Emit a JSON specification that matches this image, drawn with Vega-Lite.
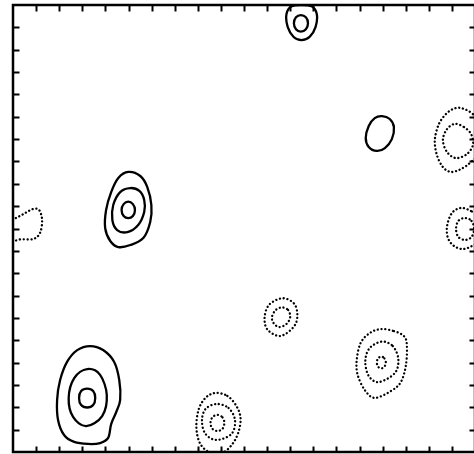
{
  "$schema": "https://vega.github.io/schema/vega-lite/v6.json",
  "width": 462,
  "height": 447,
  "autosize": "none",
  "padding": {"left": 13, "top": 5, "right": 0, "bottom": 2},
  "background": "white",
  "config": {"view": {"stroke": "black", "strokeWidth": 2.5}},
  "data": {"values": [
    {"c":"A","s":"pos","i":0,"x":3.34,"y":4.74},{"c":"A","s":"pos","i":1,"x":3.90,"y":4.56},{"c":"A","s":"pos","i":2,"x":4.38,"y":4.03},{"c":"A","s":"pos","i":3,"x":4.60,"y":3.22},{"c":"A","s":"pos","i":4,"x":4.64,"y":2.33},{"c":"A","s":"pos","i":5,"x":4.47,"y":1.79},{"c":"A","s":"pos","i":6,"x":4.25,"y":1.25},{"c":"A","s":"pos","i":7,"x":4.12,"y":0.63},{"c":"A","s":"pos","i":8,"x":3.77,"y":0.40},{"c":"A","s":"pos","i":9,"x":3.25,"y":0.36},{"c":"A","s":"pos","i":10,"x":2.65,"y":0.45},{"c":"A","s":"pos","i":11,"x":2.21,"y":0.76},{"c":"A","s":"pos","i":12,"x":1.95,"y":1.43},{"c":"A","s":"pos","i":13,"x":1.91,"y":2.33},{"c":"A","s":"pos","i":14,"x":2.04,"y":3.22},{"c":"A","s":"pos","i":15,"x":2.34,"y":4.03},{"c":"A","s":"pos","i":16,"x":2.78,"y":4.56},
    {"c":"B","s":"pos","i":0,"x":3.21,"y":3.71},{"c":"B","s":"pos","i":1,"x":3.77,"y":3.45},{"c":"B","s":"pos","i":2,"x":4.06,"y":2.55},{"c":"B","s":"pos","i":3,"x":3.86,"y":1.61},{"c":"B","s":"pos","i":4,"x":3.17,"y":1.16},{"c":"B","s":"pos","i":5,"x":2.60,"y":1.57},{"c":"B","s":"pos","i":6,"x":2.41,"y":2.42},{"c":"B","s":"pos","i":7,"x":2.65,"y":3.31},
    {"c":"C","s":"pos","i":0,"x":3.21,"y":2.84},{"c":"C","s":"pos","i":1,"x":3.47,"y":2.73},{"c":"C","s":"pos","i":2,"x":3.56,"y":2.42},{"c":"C","s":"pos","i":3,"x":3.47,"y":2.10},{"c":"C","s":"pos","i":4,"x":3.21,"y":1.99},{"c":"C","s":"pos","i":5,"x":2.95,"y":2.10},{"c":"C","s":"pos","i":6,"x":2.86,"y":2.42},{"c":"C","s":"pos","i":7,"x":2.95,"y":2.73},
    {"c":"D","s":"pos","i":0,"x":4.99,"y":12.53},{"c":"D","s":"pos","i":1,"x":5.51,"y":12.35},{"c":"D","s":"pos","i":2,"x":5.81,"y":11.86},{"c":"D","s":"pos","i":3,"x":5.99,"y":11.05},{"c":"D","s":"pos","i":4,"x":5.94,"y":10.29},{"c":"D","s":"pos","i":5,"x":5.64,"y":9.57},{"c":"D","s":"pos","i":6,"x":5.08,"y":9.26},{"c":"D","s":"pos","i":7,"x":4.56,"y":9.17},{"c":"D","s":"pos","i":8,"x":4.21,"y":9.44},{"c":"D","s":"pos","i":9,"x":3.99,"y":10.02},{"c":"D","s":"pos","i":10,"x":4.03,"y":10.83},{"c":"D","s":"pos","i":11,"x":4.25,"y":11.63},{"c":"D","s":"pos","i":12,"x":4.56,"y":12.26},
    {"c":"E","s":"pos","i":0,"x":5.08,"y":11.81},{"c":"E","s":"pos","i":1,"x":5.47,"y":11.68},{"c":"E","s":"pos","i":2,"x":5.68,"y":11.28},{"c":"E","s":"pos","i":3,"x":5.68,"y":10.74},{"c":"E","s":"pos","i":4,"x":5.42,"y":10.16},{"c":"E","s":"pos","i":5,"x":4.95,"y":9.84},{"c":"E","s":"pos","i":6,"x":4.51,"y":9.93},{"c":"E","s":"pos","i":7,"x":4.30,"y":10.38},{"c":"E","s":"pos","i":8,"x":4.34,"y":11.05},{"c":"E","s":"pos","i":9,"x":4.64,"y":11.63},
    {"c":"F","s":"pos","i":0,"x":4.99,"y":11.20},{"c":"F","s":"pos","i":1,"x":5.19,"y":11.09},{"c":"F","s":"pos","i":2,"x":5.28,"y":10.83},{"c":"F","s":"pos","i":3,"x":5.19,"y":10.56},{"c":"F","s":"pos","i":4,"x":4.99,"y":10.46},{"c":"F","s":"pos","i":5,"x":4.79,"y":10.56},{"c":"F","s":"pos","i":6,"x":4.70,"y":10.83},{"c":"F","s":"pos","i":7,"x":4.79,"y":11.09},
    {"c":"G","s":"pos","i":0,"x":12.49,"y":20.0},{"c":"G","s":"pos","i":1,"x":12.93,"y":19.94},{"c":"G","s":"pos","i":2,"x":13.15,"y":19.60},{"c":"G","s":"pos","i":3,"x":13.10,"y":19.02},{"c":"G","s":"pos","i":4,"x":12.84,"y":18.57},{"c":"G","s":"pos","i":5,"x":12.49,"y":18.43},{"c":"G","s":"pos","i":6,"x":12.15,"y":18.57},{"c":"G","s":"pos","i":7,"x":11.89,"y":19.02},{"c":"G","s":"pos","i":8,"x":11.84,"y":19.60},{"c":"G","s":"pos","i":9,"x":12.06,"y":19.94},
    {"c":"H","s":"pos","i":0,"x":12.46,"y":19.55},{"c":"H","s":"pos","i":1,"x":12.68,"y":19.45},{"c":"H","s":"pos","i":2,"x":12.77,"y":19.18},{"c":"H","s":"pos","i":3,"x":12.68,"y":18.92},{"c":"H","s":"pos","i":4,"x":12.46,"y":18.81},{"c":"H","s":"pos","i":5,"x":12.25,"y":18.92},{"c":"H","s":"pos","i":6,"x":12.16,"y":19.18},{"c":"H","s":"pos","i":7,"x":12.25,"y":19.45},
    {"c":"I","s":"pos","i":0,"x":15.97,"y":15.03},{"c":"I","s":"pos","i":1,"x":16.31,"y":14.90},{"c":"I","s":"pos","i":2,"x":16.49,"y":14.54},{"c":"I","s":"pos","i":3,"x":16.40,"y":14.00},{"c":"I","s":"pos","i":4,"x":16.10,"y":13.60},{"c":"I","s":"pos","i":5,"x":15.75,"y":13.47},{"c":"I","s":"pos","i":6,"x":15.40,"y":13.65},{"c":"I","s":"pos","i":7,"x":15.27,"y":14.05},{"c":"I","s":"pos","i":8,"x":15.40,"y":14.59},{"c":"I","s":"pos","i":9,"x":15.66,"y":14.94},
    {"c":"J","s":"neg","i":0,"x":-0.30,"y":9.40},{"c":"J","s":"neg","i":1,"x":0.30,"y":9.51},{"c":"J","s":"neg","i":2,"x":0.87,"y":9.53},{"c":"J","s":"neg","i":3,"x":1.17,"y":9.80},{"c":"J","s":"neg","i":4,"x":1.26,"y":10.38},{"c":"J","s":"neg","i":5,"x":1.13,"y":10.83},{"c":"J","s":"neg","i":6,"x":0.87,"y":10.87},{"c":"J","s":"neg","i":7,"x":0.52,"y":10.69},{"c":"J","s":"neg","i":8,"x":0.13,"y":10.47},{"c":"J","s":"neg","i":9,"x":-0.30,"y":10.29},
    {"c":"K","s":"neg","i":0,"x":20.26,"y":14.63},{"c":"K","s":"neg","i":1,"x":19.91,"y":15.12},{"c":"K","s":"neg","i":2,"x":19.52,"y":15.35},{"c":"K","s":"neg","i":3,"x":19.18,"y":15.39},{"c":"K","s":"neg","i":4,"x":18.79,"y":15.17},{"c":"K","s":"neg","i":5,"x":18.44,"y":14.68},{"c":"K","s":"neg","i":6,"x":18.26,"y":13.96},{"c":"K","s":"neg","i":7,"x":18.35,"y":13.29},{"c":"K","s":"neg","i":8,"x":18.61,"y":12.75},{"c":"K","s":"neg","i":9,"x":18.96,"y":12.53},{"c":"K","s":"neg","i":10,"x":19.39,"y":12.66},{"c":"K","s":"neg","i":11,"x":19.83,"y":12.98},{"c":"K","s":"neg","i":12,"x":20.26,"y":13.51},
    {"c":"L","s":"neg","i":0,"x":19.13,"y":14.68},{"c":"L","s":"neg","i":1,"x":19.52,"y":14.54},{"c":"L","s":"neg","i":2,"x":19.83,"y":14.23},{"c":"L","s":"neg","i":3,"x":19.91,"y":13.74},{"c":"L","s":"neg","i":4,"x":19.65,"y":13.33},{"c":"L","s":"neg","i":5,"x":19.18,"y":13.15},{"c":"L","s":"neg","i":6,"x":18.79,"y":13.42},{"c":"L","s":"neg","i":7,"x":18.61,"y":13.96},{"c":"L","s":"neg","i":8,"x":18.79,"y":14.45},
    {"c":"M","s":"neg","i":0,"x":20.26,"y":10.47},{"c":"M","s":"neg","i":1,"x":19.83,"y":10.78},{"c":"M","s":"neg","i":2,"x":19.39,"y":10.92},{"c":"M","s":"neg","i":3,"x":19.00,"y":10.69},{"c":"M","s":"neg","i":4,"x":18.79,"y":10.11},{"c":"M","s":"neg","i":5,"x":18.83,"y":9.57},{"c":"M","s":"neg","i":6,"x":19.09,"y":9.22},{"c":"M","s":"neg","i":7,"x":19.48,"y":9.08},{"c":"M","s":"neg","i":8,"x":19.87,"y":9.22},{"c":"M","s":"neg","i":9,"x":20.26,"y":9.49},
    {"c":"N","s":"neg","i":0,"x":19.57,"y":10.47},{"c":"N","s":"neg","i":1,"x":19.85,"y":10.34},{"c":"N","s":"neg","i":2,"x":19.96,"y":9.98},{"c":"N","s":"neg","i":3,"x":19.85,"y":9.62},{"c":"N","s":"neg","i":4,"x":19.57,"y":9.49},{"c":"N","s":"neg","i":5,"x":19.28,"y":9.62},{"c":"N","s":"neg","i":6,"x":19.18,"y":9.98},{"c":"N","s":"neg","i":7,"x":19.28,"y":10.34},
    {"c":"O","s":"neg","i":0,"x":11.66,"y":6.88},{"c":"O","s":"neg","i":1,"x":12.16,"y":6.65},{"c":"O","s":"neg","i":2,"x":12.31,"y":6.13},{"c":"O","s":"neg","i":3,"x":12.16,"y":5.61},{"c":"O","s":"neg","i":4,"x":11.58,"y":5.19},{"c":"O","s":"neg","i":5,"x":11.03,"y":5.46},{"c":"O","s":"neg","i":6,"x":10.89,"y":5.98},{"c":"O","s":"neg","i":7,"x":11.08,"y":6.58},
    {"c":"P","s":"neg","i":0,"x":11.65,"y":6.47},{"c":"P","s":"neg","i":1,"x":11.91,"y":6.35},{"c":"P","s":"neg","i":2,"x":12.00,"y":6.04},{"c":"P","s":"neg","i":3,"x":11.84,"y":5.73},{"c":"P","s":"neg","i":4,"x":11.52,"y":5.59},{"c":"P","s":"neg","i":5,"x":11.28,"y":5.77},{"c":"P","s":"neg","i":6,"x":11.21,"y":6.04},{"c":"P","s":"neg","i":7,"x":11.37,"y":6.35},
    {"c":"Q","s":"neg","i":0,"x":15.92,"y":5.50},{"c":"Q","s":"neg","i":1,"x":16.49,"y":5.41},{"c":"Q","s":"neg","i":2,"x":16.92,"y":5.19},{"c":"Q","s":"neg","i":3,"x":17.05,"y":4.79},{"c":"Q","s":"neg","i":4,"x":17.01,"y":3.89},{"c":"Q","s":"neg","i":5,"x":16.79,"y":3.13},{"c":"Q","s":"neg","i":6,"x":16.36,"y":2.73},{"c":"Q","s":"neg","i":7,"x":15.66,"y":2.42},{"c":"Q","s":"neg","i":8,"x":15.23,"y":2.77},{"c":"Q","s":"neg","i":9,"x":14.92,"y":3.45},{"c":"Q","s":"neg","i":10,"x":14.88,"y":4.12},{"c":"Q","s":"neg","i":11,"x":15.05,"y":4.88},{"c":"Q","s":"neg","i":12,"x":15.44,"y":5.32},
    {"c":"R","s":"neg","i":0,"x":15.97,"y":4.94},{"c":"R","s":"neg","i":1,"x":16.44,"y":4.74},{"c":"R","s":"neg","i":2,"x":16.68,"y":4.16},{"c":"R","s":"neg","i":3,"x":16.53,"y":3.53},{"c":"R","s":"neg","i":4,"x":15.84,"y":3.13},{"c":"R","s":"neg","i":5,"x":15.40,"y":3.40},{"c":"R","s":"neg","i":6,"x":15.25,"y":4.07},{"c":"R","s":"neg","i":7,"x":15.44,"y":4.65},
    {"c":"S","s":"neg","i":0,"x":15.94,"y":4.27},{"c":"S","s":"neg","i":1,"x":16.08,"y":4.19},{"c":"S","s":"neg","i":2,"x":16.14,"y":4.00},{"c":"S","s":"neg","i":3,"x":16.08,"y":3.82},{"c":"S","s":"neg","i":4,"x":15.94,"y":3.74},{"c":"S","s":"neg","i":5,"x":15.80,"y":3.82},{"c":"S","s":"neg","i":6,"x":15.75,"y":4.00},{"c":"S","s":"neg","i":7,"x":15.80,"y":4.19},
    {"c":"T","s":"neg","i":0,"x":8.76,"y":2.64},{"c":"T","s":"neg","i":1,"x":9.28,"y":2.51},{"c":"T","s":"neg","i":2,"x":9.67,"y":2.06},{"c":"T","s":"neg","i":3,"x":9.85,"y":1.52},{"c":"T","s":"neg","i":4,"x":9.76,"y":0.89},{"c":"T","s":"neg","i":5,"x":9.50,"y":0.36},{"c":"T","s":"neg","i":6,"x":9.07,"y":-0.04},{"c":"T","s":"neg","i":7,"x":8.55,"y":-0.04},{"c":"T","s":"neg","i":8,"x":8.11,"y":0.36},{"c":"T","s":"neg","i":9,"x":7.94,"y":1.07},{"c":"T","s":"neg","i":10,"x":8.03,"y":1.88},{"c":"T","s":"neg","i":11,"x":8.33,"y":2.42},
    {"c":"U","s":"neg","i":0,"x":8.81,"y":2.15},{"c":"U","s":"neg","i":1,"x":9.33,"y":1.97},{"c":"U","s":"neg","i":2,"x":9.61,"y":1.43},{"c":"U","s":"neg","i":3,"x":9.46,"y":0.81},{"c":"U","s":"neg","i":4,"x":8.81,"y":0.54},{"c":"U","s":"neg","i":5,"x":8.33,"y":0.81},{"c":"U","s":"neg","i":6,"x":8.18,"y":1.39},{"c":"U","s":"neg","i":7,"x":8.33,"y":1.92},
    {"c":"V","s":"neg","i":0,"x":8.85,"y":1.66},{"c":"V","s":"neg","i":1,"x":9.07,"y":1.55},{"c":"V","s":"neg","i":2,"x":9.15,"y":1.30},{"c":"V","s":"neg","i":3,"x":9.07,"y":1.04},{"c":"V","s":"neg","i":4,"x":8.85,"y":0.94},{"c":"V","s":"neg","i":5,"x":8.63,"y":1.04},{"c":"V","s":"neg","i":6,"x":8.55,"y":1.30},{"c":"V","s":"neg","i":7,"x":8.63,"y":1.55}
  ]},
  "layer": [
    {
      "transform": [{"filter": "datum.s === 'pos'"}],
      "mark": {"type": "line", "interpolate": "cardinal-closed", "clip": true, "color": "black", "strokeWidth": 2.3},
      "encoding": {
        "x": {"field": "x", "type": "quantitative", "scale": {"domain": [0, 20], "nice": false, "zero": false},
              "axis": {"orient": "bottom", "title": null, "labels": false, "domain": false, "grid": false, "values": [1,2,3,4,5,6,7,8,9,10,11,12,13,14,15,16,17,18,19], "tickSize": -6, "tickWidth": 2, "tickColor": "black"}},
        "y": {"field": "y", "type": "quantitative", "scale": {"domain": [0, 20], "nice": false, "zero": false},
              "axis": {"orient": "left", "title": null, "labels": false, "domain": false, "grid": false, "values": [1,2,3,4,5,6,7,8,9,10,11,12,13,14,15,16,17,18,19], "tickSize": -6, "tickWidth": 2, "tickColor": "black"}},
        "detail": {"field": "c"},
        "order": {"field": "i", "type": "quantitative"}
      }
    },
    {
      "transform": [{"filter": "datum.s === 'neg'"}],
      "mark": {"type": "line", "interpolate": "cardinal-closed", "clip": true, "color": "black", "strokeWidth": 2.3, "strokeDash": [0.1, 3.7], "strokeCap": "round"},
      "encoding": {
        "x": {"field": "x", "type": "quantitative", "scale": {"domain": [0, 20], "nice": false, "zero": false},
              "axis": {"orient": "top", "title": null, "labels": false, "domain": false, "grid": false, "values": [1,2,3,4,5,6,7,8,9,10,11,12,13,14,15,16,17,18,19], "tickSize": -6, "tickWidth": 2, "tickColor": "black"}},
        "y": {"field": "y", "type": "quantitative", "scale": {"domain": [0, 20], "nice": false, "zero": false},
              "axis": {"orient": "right", "title": null, "labels": false, "domain": false, "grid": false, "values": [1,2,3,4,5,6,7,8,9,10,11,12,13,14,15,16,17,18,19], "tickSize": -6, "tickWidth": 2, "tickColor": "black"}},
        "detail": {"field": "c"},
        "order": {"field": "i", "type": "quantitative"}
      }
    }
  ],
  "resolve": {"axis": {"x": "independent", "y": "independent"}}
}
